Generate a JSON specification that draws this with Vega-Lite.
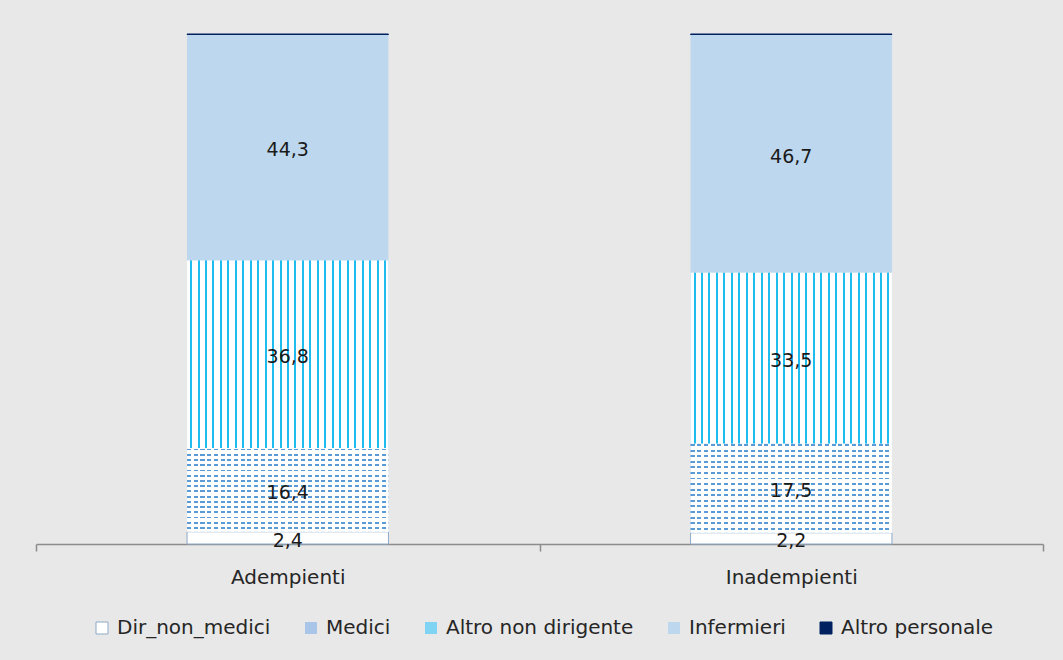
{
  "$schema": "https://vega.github.io/schema/vega-lite/v6.json",
  "width": 1007,
  "height": 510,
  "autosize": "none",
  "padding": {"left": 36, "top": 34, "right": 20, "bottom": 116},
  "background": "#e8e8e8",
  "config": {
    "locale": {"number": {"decimal": ",", "thousands": ".", "grouping": [3], "currency": ["", " €"]}},
    "view": {"stroke": null},
    "font": "DejaVu Sans",
    "legend": {
      "orient": "none",
      "legendX": 56,
      "legendY": 584,
      "direction": "horizontal",
      "title": null,
      "labelFont": "DejaVu Sans",
      "labelFontSize": 20,
      "labelColor": "#262626",
      "labelLimit": 400,
      "symbolType": "square",
      "symbolSize": 144,
      "symbolStrokeWidth": 1,
      "columnPadding": 30,
      "labelOffset": 5
    }
  },
  "data": {
    "values": [
      {"group": "Adempienti", "cat": "Dir_non_medici", "value": 2.4},
      {"group": "Adempienti", "cat": "Medici", "value": 16.4},
      {"group": "Adempienti", "cat": "Altro non dirigente", "value": 36.8},
      {"group": "Adempienti", "cat": "Infermieri", "value": 44.3},
      {"group": "Adempienti", "cat": "Altro personale", "value": 0.1},
      {"group": "Inadempienti", "cat": "Dir_non_medici", "value": 2.2},
      {"group": "Inadempienti", "cat": "Medici", "value": 17.5},
      {"group": "Inadempienti", "cat": "Altro non dirigente", "value": 33.5},
      {"group": "Inadempienti", "cat": "Infermieri", "value": 46.7},
      {"group": "Inadempienti", "cat": "Altro personale", "value": 0.1}
    ]
  },
  "transform": [
    {"window": [{"op": "row_number", "as": "idx"}], "groupby": ["group"]}
  ],
  "encoding": {
    "x": {
      "field": "group",
      "type": "nominal",
      "scale": {"paddingInner": 0, "paddingOuter": 0},
      "axis": {
        "title": null,
        "labelAngle": 0,
        "labelFont": "DejaVu Sans",
        "labelFontSize": 20,
        "labelColor": "#262626",
        "labelPadding": 16,
        "tickBand": "extent",
        "tickSize": 7,
        "tickColor": "#8c8c8c",
        "tickWidth": 1.5,
        "domainColor": "#8c8c8c",
        "domainWidth": 1.5,
        "grid": false
      }
    },
    "y": {
      "field": "value",
      "type": "quantitative",
      "stack": "zero",
      "scale": {"domain": [0, 100], "nice": false},
      "axis": null
    },
    "order": {"field": "idx", "type": "quantitative"},
    "detail": {"field": "cat", "type": "nominal"}
  },
  "layer": [
    {
      "mark": {"type": "bar", "strokeWidth": 1, "width": {"band": 0.4}},
      "encoding": {
        "color": {
          "field": "cat",
          "type": "nominal",
          "scale": {
            "domain": ["Dir_non_medici", "Medici", "Altro non dirigente", "Infermieri", "Altro personale"],
            "range": ["#ffffff", "#a9c6e8", "#7fd3f3", "#bdd7ee", "#002060"]
          }
        },
        "stroke": {
          "field": "cat",
          "type": "nominal",
          "scale": {
            "domain": ["Dir_non_medici", "Medici", "Altro non dirigente", "Infermieri", "Altro personale"],
            "range": ["#8ea9c8", "transparent", "transparent", "transparent", "#002060"]
          }
        }
      }
    },
    {
      "mark": {
        "type": "bar",
        "width": {"band": 0.4},
        "fill": {
          "gradient": "linear", "x1": 0, "y1": 0, "x2": 0, "y2": 1,
          "stops": [
            {"offset": 0, "color": "#ffffff"},
            {"offset": 0.0063, "color": "#ffffff"}, {"offset": 0.0063, "color": "#5b9bd5"}, {"offset": 0.028, "color": "#5b9bd5"}, {"offset": 0.028, "color": "#ffffff"},
            {"offset": 0.0688, "color": "#ffffff"}, {"offset": 0.0688, "color": "#5b9bd5"}, {"offset": 0.0905, "color": "#5b9bd5"}, {"offset": 0.0905, "color": "#ffffff"},
            {"offset": 0.1313, "color": "#ffffff"}, {"offset": 0.1313, "color": "#5b9bd5"}, {"offset": 0.153, "color": "#5b9bd5"}, {"offset": 0.153, "color": "#ffffff"},
            {"offset": 0.1938, "color": "#ffffff"}, {"offset": 0.1938, "color": "#5b9bd5"}, {"offset": 0.2155, "color": "#5b9bd5"}, {"offset": 0.2155, "color": "#ffffff"},
            {"offset": 0.2563, "color": "#ffffff"}, {"offset": 0.2563, "color": "#5b9bd5"}, {"offset": 0.278, "color": "#5b9bd5"}, {"offset": 0.278, "color": "#ffffff"},
            {"offset": 0.3188, "color": "#ffffff"}, {"offset": 0.3188, "color": "#5b9bd5"}, {"offset": 0.3405, "color": "#5b9bd5"}, {"offset": 0.3405, "color": "#ffffff"},
            {"offset": 0.3813, "color": "#ffffff"}, {"offset": 0.3813, "color": "#5b9bd5"}, {"offset": 0.403, "color": "#5b9bd5"}, {"offset": 0.403, "color": "#ffffff"},
            {"offset": 0.4438, "color": "#ffffff"}, {"offset": 0.4438, "color": "#5b9bd5"}, {"offset": 0.4655, "color": "#5b9bd5"}, {"offset": 0.4655, "color": "#ffffff"},
            {"offset": 0.5063, "color": "#ffffff"}, {"offset": 0.5063, "color": "#5b9bd5"}, {"offset": 0.528, "color": "#5b9bd5"}, {"offset": 0.528, "color": "#ffffff"},
            {"offset": 0.5688, "color": "#ffffff"}, {"offset": 0.5688, "color": "#5b9bd5"}, {"offset": 0.5905, "color": "#5b9bd5"}, {"offset": 0.5905, "color": "#ffffff"},
            {"offset": 0.6313, "color": "#ffffff"}, {"offset": 0.6313, "color": "#5b9bd5"}, {"offset": 0.653, "color": "#5b9bd5"}, {"offset": 0.653, "color": "#ffffff"},
            {"offset": 0.6938, "color": "#ffffff"}, {"offset": 0.6938, "color": "#5b9bd5"}, {"offset": 0.7155, "color": "#5b9bd5"}, {"offset": 0.7155, "color": "#ffffff"},
            {"offset": 0.7563, "color": "#ffffff"}, {"offset": 0.7563, "color": "#5b9bd5"}, {"offset": 0.778, "color": "#5b9bd5"}, {"offset": 0.778, "color": "#ffffff"},
            {"offset": 0.8188, "color": "#ffffff"}, {"offset": 0.8188, "color": "#5b9bd5"}, {"offset": 0.8405, "color": "#5b9bd5"}, {"offset": 0.8405, "color": "#ffffff"},
            {"offset": 0.8813, "color": "#ffffff"}, {"offset": 0.8813, "color": "#5b9bd5"}, {"offset": 0.903, "color": "#5b9bd5"}, {"offset": 0.903, "color": "#ffffff"},
            {"offset": 0.9438, "color": "#ffffff"}, {"offset": 0.9438, "color": "#5b9bd5"}, {"offset": 0.9655, "color": "#5b9bd5"}, {"offset": 0.9655, "color": "#ffffff"},
            {"offset": 1, "color": "#ffffff"}
          ]
        }
      },
      "encoding": {
        "fillOpacity": {"condition": {"test": "datum.cat === 'Medici'", "value": 1}, "value": 0}
      }
    },
    {
      "mark": {
        "type": "bar",
        "width": {"band": 0.4},
        "fill": {
          "gradient": "linear", "x1": 0, "y1": 0, "x2": 1, "y2": 0,
          "stops": [
            {"offset": 0, "color": "rgba(255,255,255,0)"},
            {"offset": 0.02, "color": "rgba(255,255,255,0)"}, {"offset": 0.02, "color": "#ffffff"}, {"offset": 0.0333, "color": "#ffffff"}, {"offset": 0.0333, "color": "rgba(255,255,255,0)"},
            {"offset": 0.0533, "color": "rgba(255,255,255,0)"}, {"offset": 0.0533, "color": "#ffffff"}, {"offset": 0.0667, "color": "#ffffff"}, {"offset": 0.0667, "color": "rgba(255,255,255,0)"},
            {"offset": 0.0867, "color": "rgba(255,255,255,0)"}, {"offset": 0.0867, "color": "#ffffff"}, {"offset": 0.1, "color": "#ffffff"}, {"offset": 0.1, "color": "rgba(255,255,255,0)"},
            {"offset": 0.12, "color": "rgba(255,255,255,0)"}, {"offset": 0.12, "color": "#ffffff"}, {"offset": 0.1333, "color": "#ffffff"}, {"offset": 0.1333, "color": "rgba(255,255,255,0)"},
            {"offset": 0.1533, "color": "rgba(255,255,255,0)"}, {"offset": 0.1533, "color": "#ffffff"}, {"offset": 0.1667, "color": "#ffffff"}, {"offset": 0.1667, "color": "rgba(255,255,255,0)"},
            {"offset": 0.1867, "color": "rgba(255,255,255,0)"}, {"offset": 0.1867, "color": "#ffffff"}, {"offset": 0.2, "color": "#ffffff"}, {"offset": 0.2, "color": "rgba(255,255,255,0)"},
            {"offset": 0.22, "color": "rgba(255,255,255,0)"}, {"offset": 0.22, "color": "#ffffff"}, {"offset": 0.2333, "color": "#ffffff"}, {"offset": 0.2333, "color": "rgba(255,255,255,0)"},
            {"offset": 0.2533, "color": "rgba(255,255,255,0)"}, {"offset": 0.2533, "color": "#ffffff"}, {"offset": 0.2667, "color": "#ffffff"}, {"offset": 0.2667, "color": "rgba(255,255,255,0)"},
            {"offset": 0.2867, "color": "rgba(255,255,255,0)"}, {"offset": 0.2867, "color": "#ffffff"}, {"offset": 0.3, "color": "#ffffff"}, {"offset": 0.3, "color": "rgba(255,255,255,0)"},
            {"offset": 0.32, "color": "rgba(255,255,255,0)"}, {"offset": 0.32, "color": "#ffffff"}, {"offset": 0.3333, "color": "#ffffff"}, {"offset": 0.3333, "color": "rgba(255,255,255,0)"},
            {"offset": 0.3533, "color": "rgba(255,255,255,0)"}, {"offset": 0.3533, "color": "#ffffff"}, {"offset": 0.3667, "color": "#ffffff"}, {"offset": 0.3667, "color": "rgba(255,255,255,0)"},
            {"offset": 0.3867, "color": "rgba(255,255,255,0)"}, {"offset": 0.3867, "color": "#ffffff"}, {"offset": 0.4, "color": "#ffffff"}, {"offset": 0.4, "color": "rgba(255,255,255,0)"},
            {"offset": 0.42, "color": "rgba(255,255,255,0)"}, {"offset": 0.42, "color": "#ffffff"}, {"offset": 0.4333, "color": "#ffffff"}, {"offset": 0.4333, "color": "rgba(255,255,255,0)"},
            {"offset": 0.4533, "color": "rgba(255,255,255,0)"}, {"offset": 0.4533, "color": "#ffffff"}, {"offset": 0.4667, "color": "#ffffff"}, {"offset": 0.4667, "color": "rgba(255,255,255,0)"},
            {"offset": 0.4867, "color": "rgba(255,255,255,0)"}, {"offset": 0.4867, "color": "#ffffff"}, {"offset": 0.5, "color": "#ffffff"}, {"offset": 0.5, "color": "rgba(255,255,255,0)"},
            {"offset": 0.52, "color": "rgba(255,255,255,0)"}, {"offset": 0.52, "color": "#ffffff"}, {"offset": 0.5333, "color": "#ffffff"}, {"offset": 0.5333, "color": "rgba(255,255,255,0)"},
            {"offset": 0.5533, "color": "rgba(255,255,255,0)"}, {"offset": 0.5533, "color": "#ffffff"}, {"offset": 0.5667, "color": "#ffffff"}, {"offset": 0.5667, "color": "rgba(255,255,255,0)"},
            {"offset": 0.5867, "color": "rgba(255,255,255,0)"}, {"offset": 0.5867, "color": "#ffffff"}, {"offset": 0.6, "color": "#ffffff"}, {"offset": 0.6, "color": "rgba(255,255,255,0)"},
            {"offset": 0.62, "color": "rgba(255,255,255,0)"}, {"offset": 0.62, "color": "#ffffff"}, {"offset": 0.6333, "color": "#ffffff"}, {"offset": 0.6333, "color": "rgba(255,255,255,0)"},
            {"offset": 0.6533, "color": "rgba(255,255,255,0)"}, {"offset": 0.6533, "color": "#ffffff"}, {"offset": 0.6667, "color": "#ffffff"}, {"offset": 0.6667, "color": "rgba(255,255,255,0)"},
            {"offset": 0.6867, "color": "rgba(255,255,255,0)"}, {"offset": 0.6867, "color": "#ffffff"}, {"offset": 0.7, "color": "#ffffff"}, {"offset": 0.7, "color": "rgba(255,255,255,0)"},
            {"offset": 0.72, "color": "rgba(255,255,255,0)"}, {"offset": 0.72, "color": "#ffffff"}, {"offset": 0.7333, "color": "#ffffff"}, {"offset": 0.7333, "color": "rgba(255,255,255,0)"},
            {"offset": 0.7533, "color": "rgba(255,255,255,0)"}, {"offset": 0.7533, "color": "#ffffff"}, {"offset": 0.7667, "color": "#ffffff"}, {"offset": 0.7667, "color": "rgba(255,255,255,0)"},
            {"offset": 0.7867, "color": "rgba(255,255,255,0)"}, {"offset": 0.7867, "color": "#ffffff"}, {"offset": 0.8, "color": "#ffffff"}, {"offset": 0.8, "color": "rgba(255,255,255,0)"},
            {"offset": 0.82, "color": "rgba(255,255,255,0)"}, {"offset": 0.82, "color": "#ffffff"}, {"offset": 0.8333, "color": "#ffffff"}, {"offset": 0.8333, "color": "rgba(255,255,255,0)"},
            {"offset": 0.8533, "color": "rgba(255,255,255,0)"}, {"offset": 0.8533, "color": "#ffffff"}, {"offset": 0.8667, "color": "#ffffff"}, {"offset": 0.8667, "color": "rgba(255,255,255,0)"},
            {"offset": 0.8867, "color": "rgba(255,255,255,0)"}, {"offset": 0.8867, "color": "#ffffff"}, {"offset": 0.9, "color": "#ffffff"}, {"offset": 0.9, "color": "rgba(255,255,255,0)"},
            {"offset": 0.92, "color": "rgba(255,255,255,0)"}, {"offset": 0.92, "color": "#ffffff"}, {"offset": 0.9333, "color": "#ffffff"}, {"offset": 0.9333, "color": "rgba(255,255,255,0)"},
            {"offset": 0.9533, "color": "rgba(255,255,255,0)"}, {"offset": 0.9533, "color": "#ffffff"}, {"offset": 0.9667, "color": "#ffffff"}, {"offset": 0.9667, "color": "rgba(255,255,255,0)"},
            {"offset": 0.9867, "color": "rgba(255,255,255,0)"}, {"offset": 0.9867, "color": "#ffffff"}, {"offset": 1, "color": "#ffffff"}
          ]
        }
      },
      "encoding": {
        "fillOpacity": {"condition": {"test": "datum.cat === 'Medici'", "value": 1}, "value": 0}
      }
    },
    {
      "mark": {
        "type": "bar",
        "width": {"band": 0.4},
        "fill": {
          "gradient": "linear", "x1": 0, "y1": 0, "x2": 1, "y2": 0,
          "stops": [
            {"offset": 0, "color": "#ffffff"},
            {"offset": 0.0148, "color": "#ffffff"}, {"offset": 0.0148, "color": "#1fbcf0"}, {"offset": 0.0248, "color": "#1fbcf0"}, {"offset": 0.0248, "color": "#ffffff"},
            {"offset": 0.0519, "color": "#ffffff"}, {"offset": 0.0519, "color": "#1fbcf0"}, {"offset": 0.0619, "color": "#1fbcf0"}, {"offset": 0.0619, "color": "#ffffff"},
            {"offset": 0.0889, "color": "#ffffff"}, {"offset": 0.0889, "color": "#1fbcf0"}, {"offset": 0.0989, "color": "#1fbcf0"}, {"offset": 0.0989, "color": "#ffffff"},
            {"offset": 0.1259, "color": "#ffffff"}, {"offset": 0.1259, "color": "#1fbcf0"}, {"offset": 0.1359, "color": "#1fbcf0"}, {"offset": 0.1359, "color": "#ffffff"},
            {"offset": 0.163, "color": "#ffffff"}, {"offset": 0.163, "color": "#1fbcf0"}, {"offset": 0.173, "color": "#1fbcf0"}, {"offset": 0.173, "color": "#ffffff"},
            {"offset": 0.2, "color": "#ffffff"}, {"offset": 0.2, "color": "#1fbcf0"}, {"offset": 0.21, "color": "#1fbcf0"}, {"offset": 0.21, "color": "#ffffff"},
            {"offset": 0.237, "color": "#ffffff"}, {"offset": 0.237, "color": "#1fbcf0"}, {"offset": 0.247, "color": "#1fbcf0"}, {"offset": 0.247, "color": "#ffffff"},
            {"offset": 0.2741, "color": "#ffffff"}, {"offset": 0.2741, "color": "#1fbcf0"}, {"offset": 0.2841, "color": "#1fbcf0"}, {"offset": 0.2841, "color": "#ffffff"},
            {"offset": 0.3111, "color": "#ffffff"}, {"offset": 0.3111, "color": "#1fbcf0"}, {"offset": 0.3211, "color": "#1fbcf0"}, {"offset": 0.3211, "color": "#ffffff"},
            {"offset": 0.3481, "color": "#ffffff"}, {"offset": 0.3481, "color": "#1fbcf0"}, {"offset": 0.3581, "color": "#1fbcf0"}, {"offset": 0.3581, "color": "#ffffff"},
            {"offset": 0.3852, "color": "#ffffff"}, {"offset": 0.3852, "color": "#1fbcf0"}, {"offset": 0.3952, "color": "#1fbcf0"}, {"offset": 0.3952, "color": "#ffffff"},
            {"offset": 0.4222, "color": "#ffffff"}, {"offset": 0.4222, "color": "#1fbcf0"}, {"offset": 0.4322, "color": "#1fbcf0"}, {"offset": 0.4322, "color": "#ffffff"},
            {"offset": 0.4593, "color": "#ffffff"}, {"offset": 0.4593, "color": "#1fbcf0"}, {"offset": 0.4693, "color": "#1fbcf0"}, {"offset": 0.4693, "color": "#ffffff"},
            {"offset": 0.4963, "color": "#ffffff"}, {"offset": 0.4963, "color": "#1fbcf0"}, {"offset": 0.5063, "color": "#1fbcf0"}, {"offset": 0.5063, "color": "#ffffff"},
            {"offset": 0.5333, "color": "#ffffff"}, {"offset": 0.5333, "color": "#1fbcf0"}, {"offset": 0.5433, "color": "#1fbcf0"}, {"offset": 0.5433, "color": "#ffffff"},
            {"offset": 0.5704, "color": "#ffffff"}, {"offset": 0.5704, "color": "#1fbcf0"}, {"offset": 0.5804, "color": "#1fbcf0"}, {"offset": 0.5804, "color": "#ffffff"},
            {"offset": 0.6074, "color": "#ffffff"}, {"offset": 0.6074, "color": "#1fbcf0"}, {"offset": 0.6174, "color": "#1fbcf0"}, {"offset": 0.6174, "color": "#ffffff"},
            {"offset": 0.6444, "color": "#ffffff"}, {"offset": 0.6444, "color": "#1fbcf0"}, {"offset": 0.6544, "color": "#1fbcf0"}, {"offset": 0.6544, "color": "#ffffff"},
            {"offset": 0.6815, "color": "#ffffff"}, {"offset": 0.6815, "color": "#1fbcf0"}, {"offset": 0.6915, "color": "#1fbcf0"}, {"offset": 0.6915, "color": "#ffffff"},
            {"offset": 0.7185, "color": "#ffffff"}, {"offset": 0.7185, "color": "#1fbcf0"}, {"offset": 0.7285, "color": "#1fbcf0"}, {"offset": 0.7285, "color": "#ffffff"},
            {"offset": 0.7556, "color": "#ffffff"}, {"offset": 0.7556, "color": "#1fbcf0"}, {"offset": 0.7656, "color": "#1fbcf0"}, {"offset": 0.7656, "color": "#ffffff"},
            {"offset": 0.7926, "color": "#ffffff"}, {"offset": 0.7926, "color": "#1fbcf0"}, {"offset": 0.8026, "color": "#1fbcf0"}, {"offset": 0.8026, "color": "#ffffff"},
            {"offset": 0.8296, "color": "#ffffff"}, {"offset": 0.8296, "color": "#1fbcf0"}, {"offset": 0.8396, "color": "#1fbcf0"}, {"offset": 0.8396, "color": "#ffffff"},
            {"offset": 0.8667, "color": "#ffffff"}, {"offset": 0.8667, "color": "#1fbcf0"}, {"offset": 0.8767, "color": "#1fbcf0"}, {"offset": 0.8767, "color": "#ffffff"},
            {"offset": 0.9037, "color": "#ffffff"}, {"offset": 0.9037, "color": "#1fbcf0"}, {"offset": 0.9137, "color": "#1fbcf0"}, {"offset": 0.9137, "color": "#ffffff"},
            {"offset": 0.9407, "color": "#ffffff"}, {"offset": 0.9407, "color": "#1fbcf0"}, {"offset": 0.9507, "color": "#1fbcf0"}, {"offset": 0.9507, "color": "#ffffff"},
            {"offset": 0.9778, "color": "#ffffff"}, {"offset": 0.9778, "color": "#1fbcf0"}, {"offset": 0.9878, "color": "#1fbcf0"}, {"offset": 0.9878, "color": "#ffffff"},
            {"offset": 1, "color": "#ffffff"}
          ]
        }
      },
      "encoding": {
        "fillOpacity": {"condition": {"test": "datum.cat === 'Altro non dirigente'", "value": 1}, "value": 0}
      }
    },
    {
      "transform": [{"filter": "datum.cat !== 'Altro personale'"}],
      "mark": {"type": "text", "font": "DejaVu Sans", "fontSize": 19, "color": "#1a1a1a", "baseline": "middle", "dy": 3},
      "encoding": {
        "y": {"field": "value", "type": "quantitative", "stack": "zero", "bandPosition": 0.5},
        "text": {"field": "value", "type": "quantitative", "format": ".1f"}
      }
    }
  ]
}
